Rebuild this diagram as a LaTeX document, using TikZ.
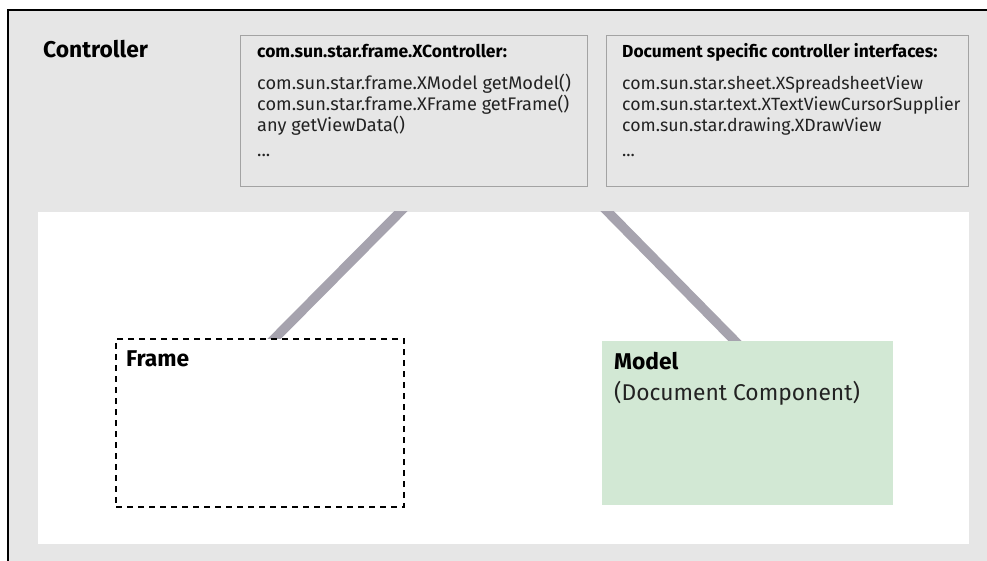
\documentclass[tikz,border=0pt]{standalone}
\usepackage{fontspec}
\setmainfont{Fira Sans}
\usetikzlibrary{backgrounds}

\definecolor{panelgray}{HTML}{E6E6E6}
\definecolor{boxline}{HTML}{A3A3A3}
\definecolor{linkgray}{HTML}{A6A3AE}
\definecolor{modelgreen}{HTML}{D2E8D4}
\definecolor{bodytext}{HTML}{222222}

\pgfdeclarelayer{linklayer}
\pgfsetlayers{background,linklayer,main}

\tikzset{
  ifacebox/.style={draw=boxline, line width=1.2pt, fill=panelgray, inner sep=0pt, anchor=north west},
  headtext/.style={anchor=base west, inner sep=0pt, font=\fontsize{#1}{22}\selectfont\bfseries},
  bodyline/.style={anchor=base west, inner sep=0pt, text=bodytext, font=\fontsize{#1}{22}\selectfont},
  bigbold/.style={anchor=base west, inner sep=0pt, font=\fontsize{22.8}{27}\selectfont\bfseries},
  bigplain/.style={anchor=base west, inner sep=0pt, text=bodytext, font=\fontsize{22.8}{27}\selectfont},
  link/.style={draw=linkgray, line width=9.5pt},
}

\begin{document}
\begin{tikzpicture}[x=1pt, y=-1pt]
  \useasboundingbox (0,0) rectangle (987,561);

  % controller area and white content panel
  \begin{pgfonlayer}{background}
    \fill[white] (0,0) rectangle (987,561);
    \fill[panelgray] (8,10) rectangle (987,561);
    \draw[black, line width=2pt] (8,561) -- (8,10) -- (987,10);
    \node[fill=white, inner sep=0pt, anchor=north west, minimum width=931pt, minimum height=332pt] (panel) at (38,212) {};
  \end{pgfonlayer}

  \node[bigbold] (ctrl) at (43,58) {Controller};

  % interface boxes
  \node[ifacebox, minimum width=347pt, minimum height=151pt] (xctrl) at (240,35) {};
  \node[headtext=17.5] (xctrlhead) at (257,58) {com.sun.star.frame.XController:};
  \node[bodyline=18.2] (xl1) at (257,90) {com.sun.star.frame.XModel getModel()};
  \node[bodyline=18.2] (xl2) at (257,111) {com.sun.star.frame.XFrame getFrame()};
  \node[bodyline=18.2] (xl3) at (257,132) {any getViewData()};
  \node[bodyline=18.2] (xl4) at (257,157) {...};

  \node[ifacebox, minimum width=362pt, minimum height=151pt] (docif) at (606,35) {};
  \node[headtext=17.4] (docifhead) at (622,58) {Document specific controller interfaces:};
  \node[bodyline=17.7] (dl1) at (622,90) {com.sun.star.sheet.XSpreadsheetView};
  \node[bodyline=17.7] (dl2) at (622,111) {com.sun.star.text.XTextViewCursorSupplier};
  \node[bodyline=17.7] (dl3) at (622,132) {com.sun.star.drawing.XDrawView};
  \node[bodyline=17.7] (dl4) at (622,157) {...};

  % frame and model
  \node[draw=black, dash pattern=on 6pt off 5pt, line width=2.2pt, fill=white, inner sep=0pt, anchor=north west, minimum width=288pt, minimum height=168pt] (frame) at (115,338) {};
  \node[bigbold] (framelabel) at (126,366) {Frame};

  \node[fill=modelgreen, inner sep=0pt, anchor=north west, minimum width=291pt, minimum height=164pt] (model) at (602,341) {};
  \node[bigbold] (modellabel) at (614,369) {Model};
  \node[bigplain] (modelsub) at (614,400) {(Document Component)};

  % connectors, cut flush at the top edge of the panel
  \coordinate (linkA) at (400,212);
  \coordinate (linkB) at (608,212);
  \begin{pgfonlayer}{linklayer}
    \clip (panel.north west) rectangle (panel.south east);
    \draw[link, shorten <=-12pt, shorten >=-8pt] (linkA) -- ([xshift=160pt]frame.north west);
    \draw[link, shorten <=-12pt, shorten >=-8pt] (linkB) -- ([xshift=133pt]model.north west);
  \end{pgfonlayer}
\end{tikzpicture}
\end{document}
